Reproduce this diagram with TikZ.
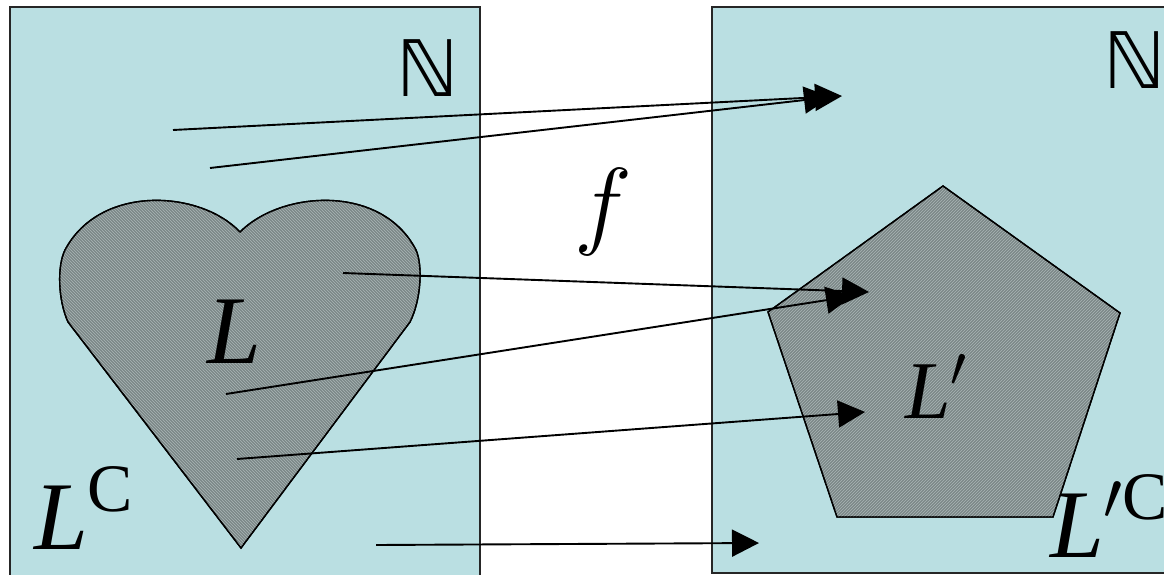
\RequirePackage{fix-cm}
\documentclass[tikz,border=0pt]{standalone}
\usepackage{amsmath,amssymb}
\usepackage{fontspec}
\setmainfont{Liberation Serif}
\newfontfamily\symfont{DejaVu Sans}
\usetikzlibrary{arrows.meta,patterns}
\definecolor{setbg}{RGB}{186,223,226}
\definecolor{regfill}{RGB}{124,136,136}
\definecolor{regline}{RGB}{170,182,182}
\tikzset{
  setbox/.style={draw=black!85, line width=1.8pt, fill=setbg},
  region/.style={draw=black, line width=1.4pt, fill=regfill},
  regionpat/.style={pattern=#1, pattern color=regline},
  maparrow/.style={line width=1.9pt, -{Triangle[length=27pt,width=27pt]}},
  lbl/.style={inner sep=0pt, outer sep=0pt, anchor=base west},
}
\begin{document}
\begin{tikzpicture}[x=1pt,y=-1pt]
\useasboundingbox (0,0) rectangle (1164,575);
\begin{scope}
\clip (0,0) rectangle (1164,575);
% boxes
\path[setbox] (10,7) rectangle (480,590);
\path[setbox] (712,7) rectangle (1180,573);
% heart
\def\heartpath{(240,232) .. controls (200,190) and (100,184) .. (65,250)
  .. controls (57,266) and (58,300) .. (68,322) -- (241,548) -- (410,322)
  .. controls (421,300) and (423,266) .. (416,250)
  .. controls (382,184) and (282,190) .. (240,232) -- cycle}
\path[region] \heartpath;
\path[regionpat=north west lines] \heartpath;
\draw[line width=1.4pt] \heartpath;
% pentagon
\def\pentpath{(943,186) -- (1120,313) -- (1053,517) -- (837,517) -- (768,312) -- cycle}
\path[region] \pentpath;
\path[regionpat=north east lines] \pentpath;
\draw[line width=1.4pt] \pentpath;
% labels
\node[lbl] (nl) at (396,97) {\fontsize{78}{85}\selectfont\symfont ℕ};
\node[lbl] (nr) at (1103,89) {\fontsize{78}{85}\selectfont\symfont ℕ};
\node[lbl] (fl) at (574,236) {\fontsize{98}{100}\selectfont$f$};
\node[lbl] (ll) at (207,363) {\fontsize{97}{100}\selectfont\itshape L};
\node[lbl] (lc) at (34,549) {\fontsize{97}{100}\selectfont$\textit{L}^{\textrm{C}}$};
\node[lbl] (lp) at (905,418) {\fontsize{82}{85}\selectfont$\textit{L}'$};
\node[lbl] (lpc) at (1050,557) {\fontsize{97}{100}\selectfont$\textit{L}'^{\textrm{C}}$};
% arrow end points
\coordinate (s1) at (173,130); \coordinate (t1) at (842,96);
\coordinate (s2) at (210,168); \coordinate (t2) at (831,97);
\coordinate (s3) at (343,273); \coordinate (t3) at (869,292);
\coordinate (s4) at (226,394); \coordinate (t4) at (853,296);
\coordinate (s5) at (237,459); \coordinate (t5) at (865,412);
\coordinate (s6) at (376,545); \coordinate (t6) at (759,543);
\draw[maparrow] (s1) -- (t1);
\draw[maparrow] (s2) -- (t2);
\draw[maparrow] (s3) -- (t3);
\draw[maparrow] (s4) -- (t4);
\draw[maparrow] (s5) -- (t5);
\draw[maparrow] (s6) -- (t6);
\end{scope}
\end{tikzpicture}
\end{document}
